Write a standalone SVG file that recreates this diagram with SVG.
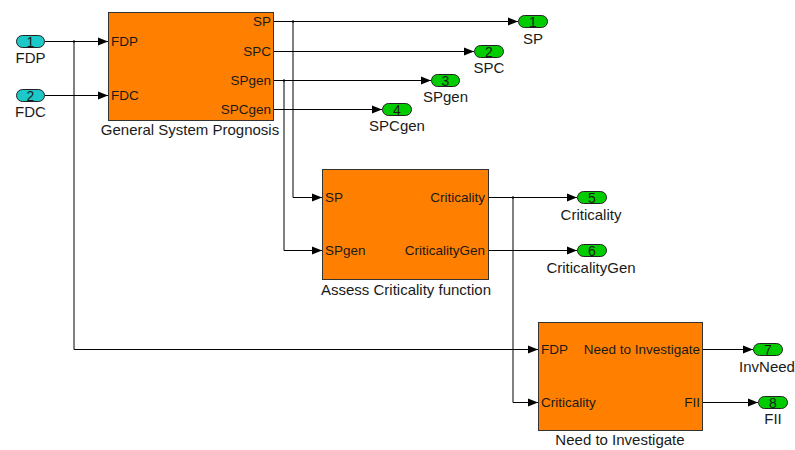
<svg xmlns="http://www.w3.org/2000/svg" width="795" height="450" viewBox="0 0 795 450">
  <defs>
    <marker id="arrow" markerUnits="userSpaceOnUse" markerWidth="11" markerHeight="9" refX="10" refY="4.5" orient="auto">
      <path d="M0,0.5 L10,4.5 L0,8.5 z" fill="#000"/>
    </marker>
    <style>
      text { font-family: "Liberation Sans", Arial, sans-serif; fill: #1a1a1a; }
      .block { fill: #ff8000; stroke: #333; stroke-width: 1; }
      .inport { fill: #1cc8c8; stroke: #222; stroke-width: 1; }
      .outport { fill: #00cc00; stroke: #222; stroke-width: 1; }
      .num { font-size: 14px; text-anchor: middle; }
      .name { font-size: 15px; text-anchor: middle; }
      .port { font-size: 13.5px; }
      .end { text-anchor: end; }
      .wire { fill: none; stroke: #000; stroke-width: 1; }
      .arr { marker-end: url(#arrow); }
      .dot { fill: #000; }
    </style>
  </defs>
  <rect width="795" height="450" fill="#fff"/>

  <!-- signal lines -->
  <g id="connectors">
    <path class="wire arr" d="M45,41.5 H108"/>
    <path class="wire arr" d="M45,95.5 H108"/>
    <path class="wire arr" d="M74,41.5 V349.5 H538"/>
    <path class="wire arr" d="M274,21.5 H518"/>
    <path class="wire arr" d="M274,51.5 H474"/>
    <path class="wire arr" d="M274,80.5 H431"/>
    <path class="wire arr" d="M274,109.5 H382"/>
    <path class="wire arr" d="M293,21.5 V197.5 H322"/>
    <path class="wire arr" d="M284,80.5 V250.5 H322"/>
    <path class="wire arr" d="M489,197.5 H577"/>
    <path class="wire arr" d="M489,250.5 H577"/>
    <path class="wire arr" d="M513,197.5 V402.5 H538"/>
    <path class="wire arr" d="M703,349.5 H753"/>
    <path class="wire arr" d="M703,402.5 H758"/>
    <!-- branch points -->
    <rect class="dot" x="73" y="40.5" width="2" height="2"/>
    <rect class="dot" x="292" y="20.5" width="2" height="2"/>
    <rect class="dot" x="283" y="79.5" width="2" height="2"/>
    <rect class="dot" x="512" y="196.5" width="2" height="2"/>
  </g>

  <!-- inports -->
  <g id="in1">
    <rect class="inport" x="16.5" y="35.5" width="28" height="12" rx="6"/>
    <text class="num" x="30.5" y="46.5">1</text>
    <text class="name" x="30.5" y="63">FDP</text>
  </g>
  <g id="in2">
    <rect class="inport" x="16.5" y="89.5" width="28" height="12" rx="6"/>
    <text class="num" x="30.5" y="100.5">2</text>
    <text class="name" x="30.5" y="117">FDC</text>
  </g>

  <!-- subsystem: General System Prognosis -->
  <g id="general-system-prognosis">
    <rect class="block" x="108.5" y="12.5" width="165" height="108"/>
    <text class="port" x="111" y="46">FDP</text>
    <text class="port" x="111" y="100">FDC</text>
    <text class="port end" x="271" y="26">SP</text>
    <text class="port end" x="271" y="56">SPC</text>
    <text class="port end" x="271" y="85">SPgen</text>
    <text class="port end" x="271" y="114">SPCgen</text>
    <text class="name" x="190" y="135">General System Prognosis</text>
  </g>

  <!-- subsystem: Assess Criticality function -->
  <g id="assess-criticality">
    <rect class="block" x="322.5" y="169.5" width="166" height="110"/>
    <text class="port" x="325" y="202">SP</text>
    <text class="port" x="325" y="255">SPgen</text>
    <text class="port end" x="485" y="202">Criticality</text>
    <text class="port end" x="485" y="255">CriticalityGen</text>
    <text class="name" x="406" y="295">Assess Criticality function</text>
  </g>

  <!-- subsystem: Need to Investigate -->
  <g id="need-to-investigate">
    <rect class="block" x="538.5" y="322.5" width="164" height="108"/>
    <text class="port" x="541" y="354">FDP</text>
    <text class="port" x="541" y="407">Criticality</text>
    <text class="port end" x="700" y="354">Need to Investigate</text>
    <text class="port end" x="700" y="407">FII</text>
    <text class="name" x="620" y="445">Need to Investigate</text>
  </g>

  <!-- outports -->
  <g id="out1">
    <rect class="outport" x="518.5" y="15.5" width="29" height="12" rx="6"/>
    <text class="num" x="533" y="26.5">1</text>
    <text class="name" x="533" y="44">SP</text>
  </g>
  <g id="out2">
    <rect class="outport" x="474.5" y="45.5" width="29" height="12" rx="6"/>
    <text class="num" x="489" y="56.5">2</text>
    <text class="name" x="489" y="73">SPC</text>
  </g>
  <g id="out3">
    <rect class="outport" x="431.5" y="74.5" width="28" height="12" rx="6"/>
    <text class="num" x="445.5" y="85.5">3</text>
    <text class="name" x="445.5" y="102">SPgen</text>
  </g>
  <g id="out4">
    <rect class="outport" x="382.5" y="103.5" width="29" height="12" rx="6"/>
    <text class="num" x="397" y="114.5">4</text>
    <text class="name" x="397" y="131">SPCgen</text>
  </g>
  <g id="out5">
    <rect class="outport" x="577.5" y="191.5" width="29" height="12" rx="6"/>
    <text class="num" x="592" y="202.5">5</text>
    <text class="name" x="591" y="220">Criticality</text>
  </g>
  <g id="out6">
    <rect class="outport" x="577.5" y="244.5" width="29" height="12" rx="6"/>
    <text class="num" x="592" y="255.5">6</text>
    <text class="name" x="591" y="273">CriticalityGen</text>
  </g>
  <g id="out7">
    <rect class="outport" x="753.5" y="343.5" width="29" height="12" rx="6"/>
    <text class="num" x="768" y="354.5">7</text>
    <text class="name" x="767" y="372">InvNeed</text>
  </g>
  <g id="out8">
    <rect class="outport" x="758.5" y="396.5" width="29" height="12" rx="6"/>
    <text class="num" x="773" y="407.5">8</text>
    <text class="name" x="773" y="424">FII</text>
  </g>
</svg>
